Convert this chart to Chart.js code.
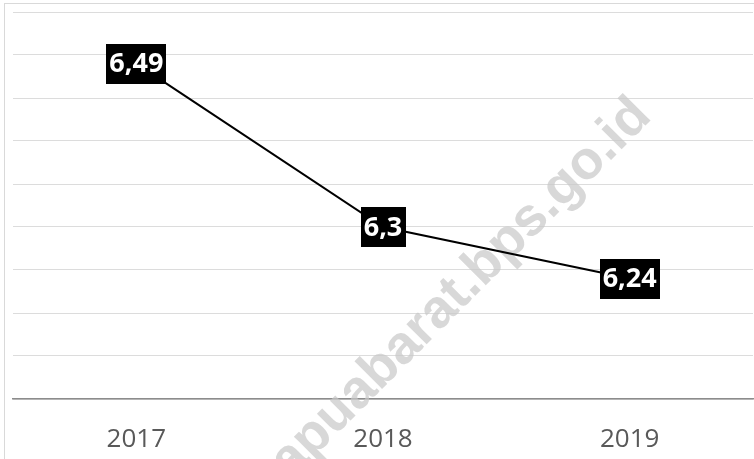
<!DOCTYPE html>
<html lang="id">
<head>
<meta charset="UTF-8" />
<title>Grafik</title>
<script src="https://cdn.jsdelivr.net/npm/chart.js"></script>
<style>
  html, body { margin: 0; padding: 0; background: #fff; }
  #wrap { position: relative; width: 754px; height: 459px; }
</style>
</head>
<body>
<div id="wrap"><canvas id="chart" width="754" height="459"></canvas></div>
<script>
  const years = ['2017', '2018', '2019'];
  const values = [6.49, 6.3, 6.24];
  const valueLabels = ['6,49', '6,3', '6,24'];
  const watermarkText = 'papuabarat.bps.go.id';

  // frame around the chart (only left/top visible)
  const framePlugin = {
    id: 'frame',
    beforeDraw(chart) {
      const c = chart.ctx;
      c.save();
      c.strokeStyle = '#d9d9d9';
      c.lineWidth = 1;
      c.strokeRect(4.5, 3.5, 900, 900);
      c.restore();
    }
  };

  const watermarkPlugin = {
    id: 'watermark',
    beforeDatasetsDraw(chart) {
      const c = chart.ctx;
      c.save();
      c.translate(460, 311);
      c.rotate(-Math.PI / 4);
      c.font = 'bold 54px "Liberation Sans", Arial, sans-serif';
      c.fillStyle = 'rgba(200,200,200,0.7)';
      c.textAlign = 'center';
      c.textBaseline = 'alphabetic';
      c.fillText(watermarkText, 0, 0);
      c.restore();
    }
  };

  const boxLabelPlugin = {
    id: 'boxLabels',
    afterDatasetsDraw(chart) {
      const c = chart.ctx;
      const meta = chart.getDatasetMeta(0);
      c.save();
      c.font = 'bold 27px "Open Sans", sans-serif';
      c.textAlign = 'center';
      c.textBaseline = 'middle';
      meta.data.forEach((pt, i) => {
        const txt = valueLabels[i];
        const w = c.measureText(txt).width + 6;
        const h = 40;
        c.fillStyle = '#000';
        c.fillRect(Math.round(pt.x - w / 2), Math.round(pt.y - h / 2), Math.round(w), h);
        c.fillStyle = '#fff';
        c.fillText(txt, pt.x, pt.y + 1);
      });
      c.restore();
    }
  };

  const ctx = document.getElementById('chart').getContext('2d');
  new Chart(ctx, {
    type: 'line',
    data: {
      labels: years,
      datasets: [{
        data: values,
        borderColor: '#000',
        borderWidth: 2,
        pointRadius: 0,
        tension: 0,
        fill: false
      }]
    },
    options: {
      responsive: false,
      animation: false,
      layout: { padding: { left: 13, right: 1, top: 12, bottom: 4 } },
      plugins: {
        legend: { display: false },
        tooltip: { enabled: false }
      },
      scales: {
        x: {
          offset: true,
          grid: { display: false, drawTicks: false },
          border: { display: true, color: '#8c8c8c', width: 1.5 },
          ticks: {
            padding: 25,
            color: '#595959',
            font: { family: '"Open Sans", sans-serif', size: 26 }
          },
          afterFit(scale) { scale.height = 56; }
        },
        y: {
          min: 6.1,
          max: 6.55,
          ticks: { display: false, stepSize: 0.05 },
          grid: { color: '#dcdcdc', drawTicks: false, lineWidth: 1 },
          border: { display: false }
        }
      }
    },
    plugins: [framePlugin, watermarkPlugin, boxLabelPlugin]
  });
</script>
</body>
</html>
